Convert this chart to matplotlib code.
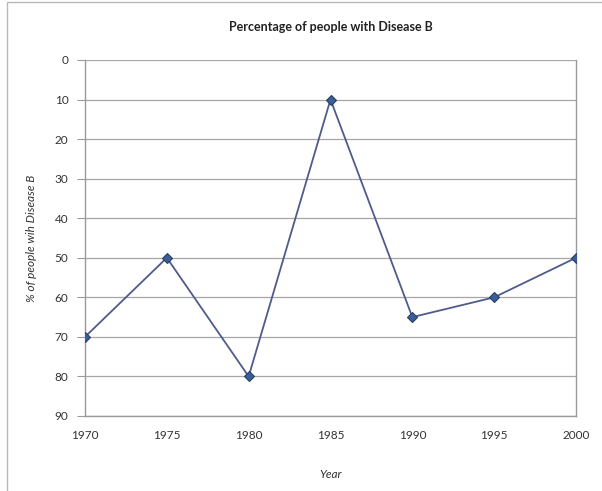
import matplotlib.pyplot as plt
from matplotlib.patches import Rectangle

years = [1970, 1975, 1980, 1985, 1990, 1995, 2000]
percent = [70, 50, 80, 10, 65, 60, 50]
y_ticks = [0, 10, 20, 30, 40, 50, 60, 70, 80, 90]

plt.rcParams['font.family'] = ['Lato', 'DejaVu Sans']

fig = plt.figure(figsize=(6.02, 4.91), dpi=100)

# outer chart border (cut off at right/bottom in the original)
fig.patches.append(Rectangle((7 / 602, -0.05), 1.0, 1 - 2 / 491 + 0.05,
                             transform=fig.transFigure, fill=False,
                             edgecolor='#b8b8b8', linewidth=1.0))

ax = fig.add_axes([85 / 602, 1 - 416 / 491, 491 / 602, 356 / 491])
ax.plot(years, percent, color='#4f5b8a', linewidth=1.3, marker='D',
        markersize=5, markerfacecolor='#3a5f96', markeredgecolor='#2b3f66',
        markeredgewidth=0.8, zorder=3)

ax.set_xlim(1970, 2000)
ax.set_ylim(90, 0)
ax.set_xticks(years)
ax.set_yticks(y_ticks)
ax.grid(axis='y', color='#a6a6a6', linewidth=0.9)
ax.set_axisbelow(True)

for side in ['left', 'bottom', 'right']:
    ax.spines[side].set_color('#9a9a9a')
    ax.spines[side].set_linewidth(1.0)
ax.spines['top'].set_visible(False)

ax.tick_params(axis='y', length=6, color='#9a9a9a', labelsize=8.5,
               labelcolor='#333333', pad=6, direction='out')
ax.tick_params(axis='x', length=0, labelsize=8.5, labelcolor='#333333', pad=10)

ax.set_title('Percentage of people with Disease B', fontsize=9,
             fontweight='bold', color='#222222', pad=21)
ax.set_xlabel('Year', fontsize=8.5, style='italic', color='#333333', labelpad=20)
ax.set_ylabel('% of people wih Disease B', fontsize=8.5, style='italic',
              color='#333333', labelpad=13)

fig.savefig('out.png', dpi=100)
